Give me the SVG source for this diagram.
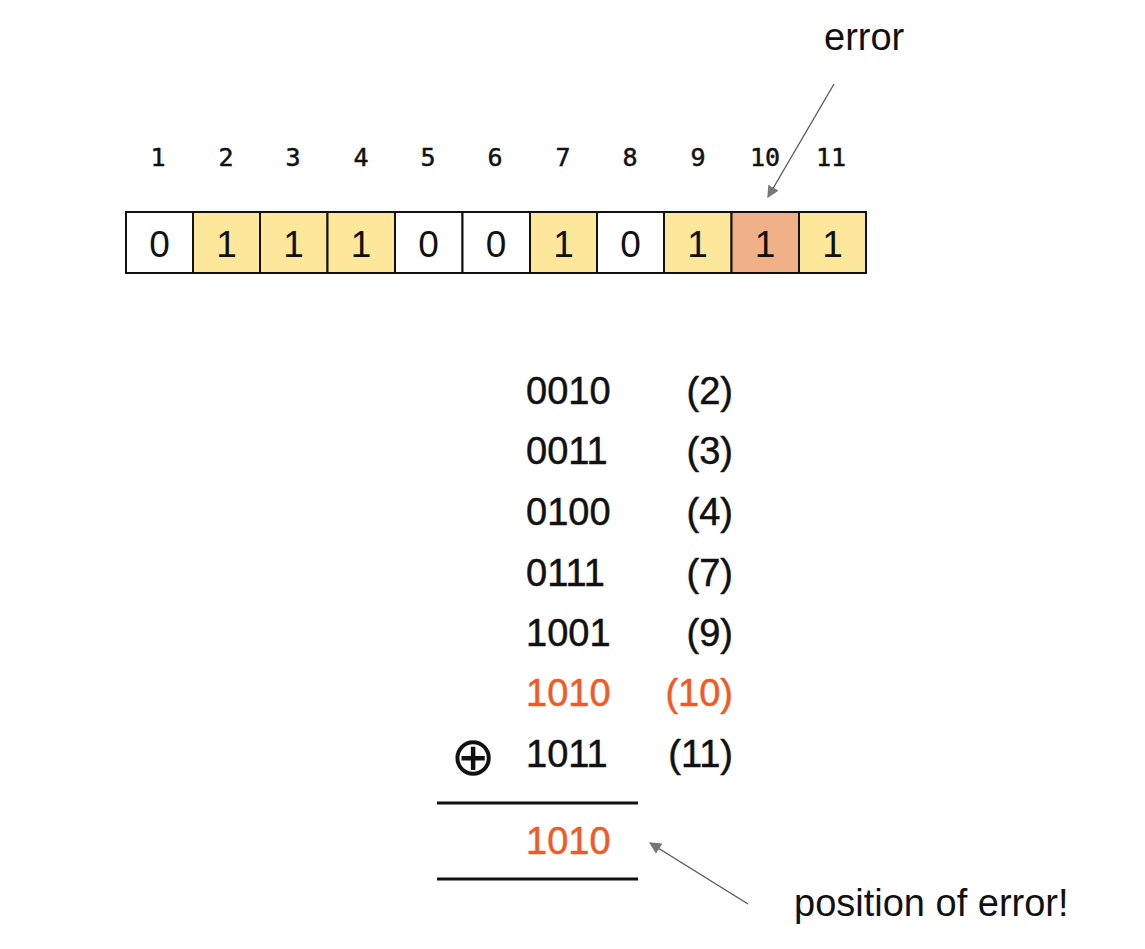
<svg xmlns="http://www.w3.org/2000/svg" width="1145" height="949" viewBox="0 0 1145 949">
<defs>
<style>
.idx{font-family:"DejaVu Sans Mono",monospace;font-size:25px;fill:#111;stroke:#111;stroke-width:0.5;text-anchor:middle}
.cell{stroke:#111;stroke-width:2}
.bit{font-family:"Liberation Sans",Arial,sans-serif;font-size:37px;fill:#111;text-anchor:middle}
.num{font-family:"Liberation Sans",Arial,sans-serif;font-size:38px;fill:#111;stroke:#111;stroke-width:0.5}
.red{fill:#F05A24;stroke:#F05A24}
.lbl{font-family:"Liberation Sans",Arial,sans-serif;font-size:38px;fill:#111}
.conn{stroke:#555;stroke-width:1.3;fill:none;marker-end:url(#ah)}
</style>
<marker id="ah" viewBox="0 0 10 10" refX="9" refY="5" markerWidth="12" markerHeight="12" markerUnits="userSpaceOnUse" orient="auto">
<path d="M0,0 L10,5 L0,10 z" fill="#777"/>
</marker>
</defs>
<rect width="1145" height="949" fill="#fff"/>
<g id="indices">
<text class="idx" x="158" y="166">1</text>
<text class="idx" x="226" y="166">2</text>
<text class="idx" x="293" y="166">3</text>
<text class="idx" x="361" y="166">4</text>
<text class="idx" x="428" y="166">5</text>
<text class="idx" x="495" y="166">6</text>
<text class="idx" x="563" y="166">7</text>
<text class="idx" x="630" y="166">8</text>
<text class="idx" x="698" y="166">9</text>
<text class="idx" x="765" y="166">10</text>
<text class="idx" x="831" y="166">11</text>
</g>
<g id="cells">
<rect class="cell" x="126" y="212" width="67" height="61" fill="#fff"/>
<rect class="cell" x="193" y="212" width="67" height="61" fill="#FDE79B"/>
<rect class="cell" x="260" y="212" width="67.5" height="61" fill="#FDE79B"/>
<rect class="cell" x="327.5" y="212" width="67.5" height="61" fill="#FDE79B"/>
<rect class="cell" x="395" y="212" width="67.5" height="61" fill="#fff"/>
<rect class="cell" x="462.5" y="212" width="67.5" height="61" fill="#fff"/>
<rect class="cell" x="530" y="212" width="67" height="61" fill="#FDE79B"/>
<rect class="cell" x="597" y="212" width="67" height="61" fill="#fff"/>
<rect class="cell" x="664" y="212" width="67.5" height="61" fill="#FDE79B"/>
<rect class="cell" x="731.5" y="212" width="67.5" height="61" fill="#F0B088"/>
<rect class="cell" x="799" y="212" width="67" height="61" fill="#FDE79B"/>
<text class="bit" x="159.5" y="257">0</text>
<text class="bit" x="226.5" y="257">1</text>
<text class="bit" x="293.5" y="257">1</text>
<text class="bit" x="361" y="257">1</text>
<text class="bit" x="428.5" y="257">0</text>
<text class="bit" x="496" y="257">0</text>
<text class="bit" x="563.5" y="257">1</text>
<text class="bit" x="630.5" y="257">0</text>
<text class="bit" x="697.5" y="257">1</text>
<text class="bit" x="765" y="257">1</text>
<text class="bit" x="832.5" y="257">1</text>
</g>
<g id="sum">
<text class="num" x="526" y="404">0010</text><text class="num" x="733" y="404" text-anchor="end">(2)</text>
<text class="num" x="526" y="464">0011</text><text class="num" x="733" y="464" text-anchor="end">(3)</text>
<text class="num" x="526" y="525">0100</text><text class="num" x="733" y="525" text-anchor="end">(4)</text>
<text class="num" x="526" y="586">0111</text><text class="num" x="733" y="586" text-anchor="end">(7)</text>
<text class="num" x="526" y="646">1001</text><text class="num" x="733" y="646" text-anchor="end">(9)</text>
<text class="num red" x="526" y="706">1010</text><text class="num red" x="733" y="706" text-anchor="end">(10)</text>
<text class="num" x="526" y="767">1011</text><text class="num" x="733" y="767" text-anchor="end">(11)</text>
<text x="473" y="775" font-family="DejaVu Sans, sans-serif" font-size="54" fill="#111" text-anchor="middle">⊕</text>
<line x1="437" y1="803" x2="638" y2="803" stroke="#111" stroke-width="3"/>
<text class="num red" x="526" y="854">1010</text>
<line x1="437" y1="879" x2="638" y2="879" stroke="#111" stroke-width="3"/>
</g>
<g id="labels">
<text class="lbl" x="824" y="50">error</text>
<text class="lbl" x="794" y="916">position of error!</text>
</g>
<g id="connectors">
<line class="conn" x1="834" y1="84" x2="768" y2="197"/>
<line class="conn" x1="748" y1="904" x2="650" y2="843"/>
</g>
</svg>
